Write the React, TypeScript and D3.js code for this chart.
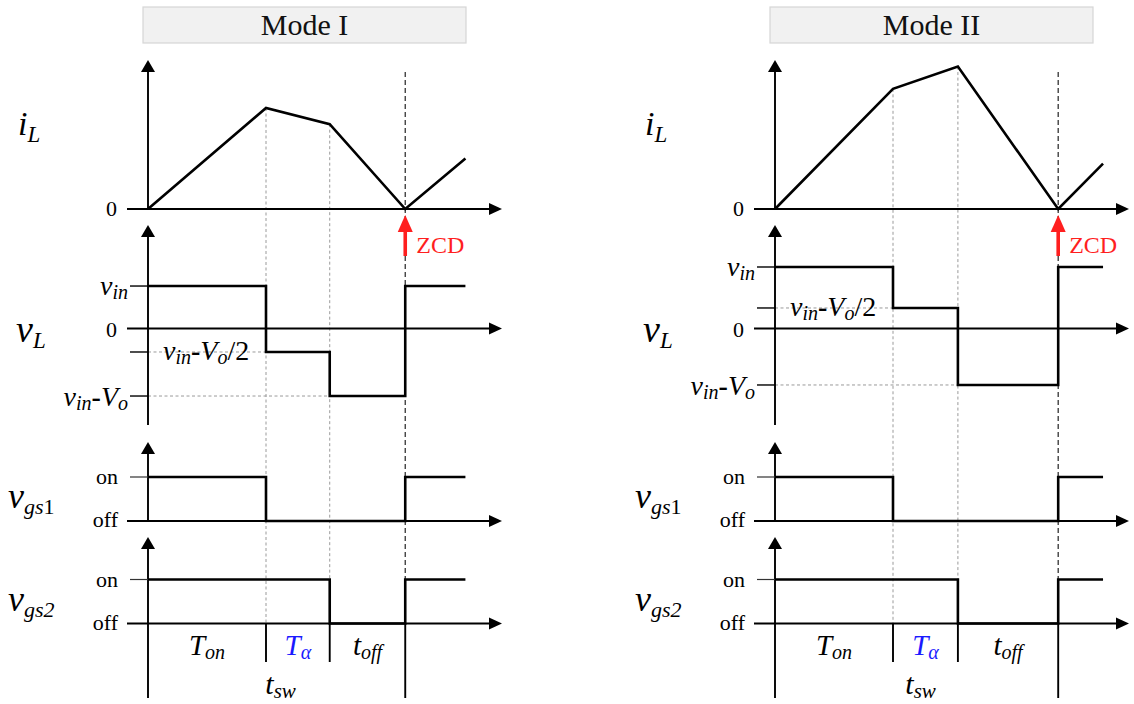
import React from "react";
import * as d3 from "d3";

const W = 1134;
const H = 704;

const MODE_TITLES = ["Mode I", "Mode II"];
// switching instants: start, end of Ton, end of Tα, zero crossing, end of trace
const EDGES_MODE1 = [0, 1.0, 1.54, 2.18, 2.69];
const EDGES_MODE2 = [0, 1.0, 1.55, 2.4, 2.78];
// inductor current at each instant
const IL_MODE1 = [0, 1.0, 0.84, 0, 0.5];
const IL_MODE2 = [0, 1.19, 1.41, 0, 0.45];
// inductor voltage levels: vin, vin - Vo/2, vin - Vo
const VL_MODE1 = [0.685, -0.379, -1.089];
const VL_MODE2 = [0.992, 0.331, -0.911];
// which voltage level holds from each instant on
const VL_LEVEL_INDEX = [0, 1, 2, 0, 0];
// gate states (1 = on, 0 = off) from each instant on
const VGS1_STATES = [1, 0, 0, 1, 1];
const VGS2_STATES = [1, 1, 0, 1, 1];

const MODES = [
  { title: MODE_TITLES[0], edges: EDGES_MODE1, il: IL_MODE1, vl: VL_MODE1, ox: 148 },
  { title: MODE_TITLES[1], edges: EDGES_MODE2, il: IL_MODE2, vl: VL_MODE2, ox: 775 },
];

const SERIF = "'Liberation Serif', 'Times New Roman', serif";
const RED = "#ff1f1f";
const BLUE = "#1a1aff";

// row baselines
const IL_ZERO = 209;
const VL_ZERO = 328.5;
const G1_OFF = 521;
const G2_OFF = 623.5;

function xArrow(x: number, y: number) {
  return `M${x},${y} L${x - 13},${y - 6} L${x - 13},${y + 6} Z`;
}
function yArrow(x: number, y: number) {
  return `M${x},${y} L${x - 7},${y + 12} L${x + 7},${y + 12} Z`;
}

function Panel({ mode }: { mode: (typeof MODES)[number] }) {
  const { edges, il, vl, ox, title } = mode;
  const x = d3.scaleLinear().domain([0, 3]).range([ox, ox + 354]);
  const yIL = d3.scaleLinear().domain([0, 1]).range([IL_ZERO, IL_ZERO - 101]);
  const yVL = d3.scaleLinear().domain([0, 1]).range([VL_ZERO, VL_ZERO - 62]);
  const yG1 = d3.scaleLinear().domain([0, 1]).range([G1_OFF, G1_OFF - 44]);
  const yG2 = d3.scaleLinear().domain([0, 1]).range([G2_OFF, G2_OFF - 44]);

  const x0 = x(0);
  const xStart = ox - 21;
  const xTip = x(3);
  const [t0, t1, t2, t3] = edges;

  const ilPath = d3
    .line<number>()
    .x((_, i) => x(edges[i]))
    .y((d) => yIL(d))(il) as string;

  const vlPath = d3
    .line<number>()
    .x((t) => x(t))
    .y((_, i) => yVL(vl[VL_LEVEL_INDEX[i]]))
    .curve(d3.curveStepAfter)(edges) as string;

  const gatePath = (states: number[], y: d3.ScaleLinear<number, number>) =>
    d3
      .line<number>()
      .x((t) => x(t))
      .y((_, i) => y(states[i]))
      .curve(d3.curveStepAfter)(edges) as string;

  const dotted = { stroke: "#9a9a9a", strokeWidth: 1, strokeDasharray: "3,2.5", fill: "none" };
  const axis = { stroke: "#000", strokeWidth: 1.9, fill: "none" };
  const wave = { stroke: "#000", strokeWidth: 2.6, fill: "none", strokeLinejoin: "miter" as const };
  const tick = { stroke: "#000", strokeWidth: 1.4 };
  const lblX = ox - 20; // right edge of left-hand labels
  const fx = ox - 130; // left edge of row symbols

  return (
    <g fontFamily={SERIF}>
      {/* title box */}
      <rect x={ox - 5} y={7} width={323} height={36} fill="#f1f1f1" stroke="#d6d6d6" strokeWidth={1.2} />
      <text x={ox - 5 + 161.5} y={35} textAnchor="middle" fontSize={30} fill="#111">
        {title}
      </text>

      {/* guide lines at the switching instants */}
      <line x1={x(t1)} x2={x(t1)} y1={yIL(il[1])} y2={G2_OFF} {...dotted} />
      <line x1={x(t2)} x2={x(t2)} y1={yIL(il[2])} y2={G2_OFF} {...dotted} />
      <line x1={x(t3)} x2={x(t3)} y1={72} y2={G2_OFF} stroke="#333" strokeWidth={1.3} strokeDasharray="5,3" />
      <line x1={x0} x2={x(t1)} y1={yVL(vl[1])} y2={yVL(vl[1])} {...dotted} />
      <line x1={x0} x2={x(t2)} y1={yVL(vl[2])} y2={yVL(vl[2])} {...dotted} />

      {/* interval markers */}
      <line x1={x(t1)} x2={x(t1)} y1={G2_OFF} y2={662} {...axis} />
      <line x1={x(t2)} x2={x(t2)} y1={G2_OFF} y2={662} {...axis} />
      <line x1={x(t3)} x2={x(t3)} y1={G2_OFF} y2={698} {...axis} />

      {/* iL axes */}
      <line x1={x0} x2={x0} y1={70} y2={IL_ZERO} {...axis} />
      <path d={yArrow(x0, 60)} fill="#000" />
      <line x1={xStart} x2={xTip - 10} y1={IL_ZERO} y2={IL_ZERO} {...axis} />
      <path d={xArrow(xTip, IL_ZERO)} fill="#000" />

      {/* vL axes */}
      <line x1={x0} x2={x0} y1={235} y2={425} {...axis} />
      <path d={yArrow(x0, 225)} fill="#000" />
      <line x1={xStart} x2={xTip - 10} y1={VL_ZERO} y2={VL_ZERO} {...axis} />
      <path d={xArrow(xTip, VL_ZERO)} fill="#000" />
      {vl.map((v, i) => (
        <line key={i} x1={ox - 18} x2={x0} y1={yVL(v)} y2={yVL(v)} {...tick} />
      ))}

      {/* vgs1 axes */}
      <line x1={x0} x2={x0} y1={452} y2={G1_OFF} {...axis} />
      <path d={yArrow(x0, 442)} fill="#000" />
      <line x1={xStart} x2={xTip - 10} y1={G1_OFF} y2={G1_OFF} {...axis} />
      <path d={xArrow(xTip, G1_OFF)} fill="#000" />
      <line x1={ox - 18} x2={x0} y1={yG1(1)} y2={yG1(1)} stroke="#333" strokeWidth={1.2} />

      {/* vgs2 axes */}
      <line x1={x0} x2={x0} y1={547} y2={698} {...axis} />
      <path d={yArrow(x0, 537)} fill="#000" />
      <line x1={xStart} x2={xTip - 10} y1={G2_OFF} y2={G2_OFF} {...axis} />
      <path d={xArrow(xTip, G2_OFF)} fill="#000" />
      <line x1={ox - 18} x2={x0} y1={yG2(1)} y2={yG2(1)} stroke="#333" strokeWidth={1.2} />

      {/* waveforms */}
      <path d={ilPath} {...wave} />
      <path d={vlPath} {...wave} />
      <path d={gatePath(VGS1_STATES, yG1)} {...wave} />
      <path d={gatePath(VGS2_STATES, yG2)} {...wave} />

      {/* zero-current detection */}
      <line x1={x(t3)} x2={x(t3)} y1={256} y2={229} stroke={RED} strokeWidth={3.6} />
      <path d={`M${x(t3)},${IL_ZERO + 6} L${x(t3) - 7.5},${IL_ZERO + 23} L${x(t3) + 7.5},${IL_ZERO + 23} Z`} fill={RED} />
      <text x={x(t3) + 11} y={253} fontSize={24} fill={RED}>
        ZCD
      </text>

      {/* row symbols */}
      <text x={fx} y={135} fontSize={34} fontStyle="italic">
        i<tspan fontSize={23} dy={7}>L</tspan>
      </text>
      <text x={fx - 2} y={342} fontSize={38} fontStyle="italic">
        v<tspan fontSize={23} dy={6}>L</tspan>
      </text>
      <text x={fx - 10} y={508} fontSize={36} fontStyle="italic">
        v<tspan fontSize={22} dy={6}>gs</tspan>
        <tspan fontSize={22} fontStyle="normal">1</tspan>
      </text>
      <text x={fx - 10} y={611} fontSize={36} fontStyle="italic">
        v<tspan fontSize={22} dy={6}>gs</tspan>
        <tspan fontSize={22}>2</tspan>
      </text>

      {/* level labels */}
      <text x={ox - 31} y={IL_ZERO + 7} fontSize={22} textAnchor="end">0</text>
      <text x={ox - 31} y={VL_ZERO + 8} fontSize={22} textAnchor="end">0</text>
      <text x={lblX} y={yVL(vl[0]) + 9} fontSize={28} textAnchor="end" fontStyle="italic">
        v<tspan fontSize={20} dy={4}>in</tspan>
      </text>
      <text x={lblX} y={yVL(vl[2]) + 10} fontSize={28} textAnchor="end" fontStyle="italic">
        v<tspan fontSize={20} dy={4}>in</tspan>
        <tspan dy={-4} fontStyle="normal" fontWeight="bold">-</tspan>
        <tspan>V</tspan>
        <tspan fontSize={20} dy={4}>o</tspan>
      </text>
      <text x={ox + 15} y={yVL(vl[1]) + 8} fontSize={28} fontStyle="italic">
        v<tspan fontSize={20} dy={4}>in</tspan>
        <tspan dy={-4} fontStyle="normal" fontWeight="bold">-</tspan>
        <tspan>V</tspan>
        <tspan fontSize={20} dy={4}>o</tspan>
        <tspan dy={-4} fontStyle="normal">/2</tspan>
      </text>
      <text x={ox - 30} y={yG1(1) + 7} fontSize={22} textAnchor="end">on</text>
      <text x={ox - 30} y={yG1(0) + 6} fontSize={22} textAnchor="end">off</text>
      <text x={ox - 30} y={yG2(1) + 7} fontSize={22} textAnchor="end">on</text>
      <text x={ox - 30} y={yG2(0) + 6} fontSize={22} textAnchor="end">off</text>

      {/* interval labels */}
      <text x={(x(t0) + x(t1)) / 2} y={655} fontSize={29} textAnchor="middle" fontStyle="italic">
        T<tspan fontSize={20} dy={4}>on</tspan>
      </text>
      <text x={(x(t1) + x(t2)) / 2} y={655} fontSize={29} textAnchor="middle" fontStyle="italic" fill={BLUE}>
        T<tspan fontSize={20} dy={4}>α</tspan>
      </text>
      <text x={(x(t2) + x(t3)) / 2} y={655} fontSize={29} textAnchor="middle" fontStyle="italic">
        t<tspan fontSize={20} dy={4}>off</tspan>
      </text>
      <text x={(x(t0) + x(t3)) / 2 + 4} y={694} fontSize={30} textAnchor="middle" fontStyle="italic">
        t<tspan fontSize={21} dy={4}>sw</tspan>
      </text>
    </g>
  );
}

export default function App() {
  return (
    <svg
      width={W}
      height={H}
      viewBox={`0 0 ${W} ${H}`}
      style={{ position: "absolute", left: 0, top: 0, background: "#fff" }}
    >
      <rect width={W} height={H} fill="#fff" />
      {MODES.map((m) => (
        <Panel key={m.title} mode={m} />
      ))}
    </svg>
  );
}
